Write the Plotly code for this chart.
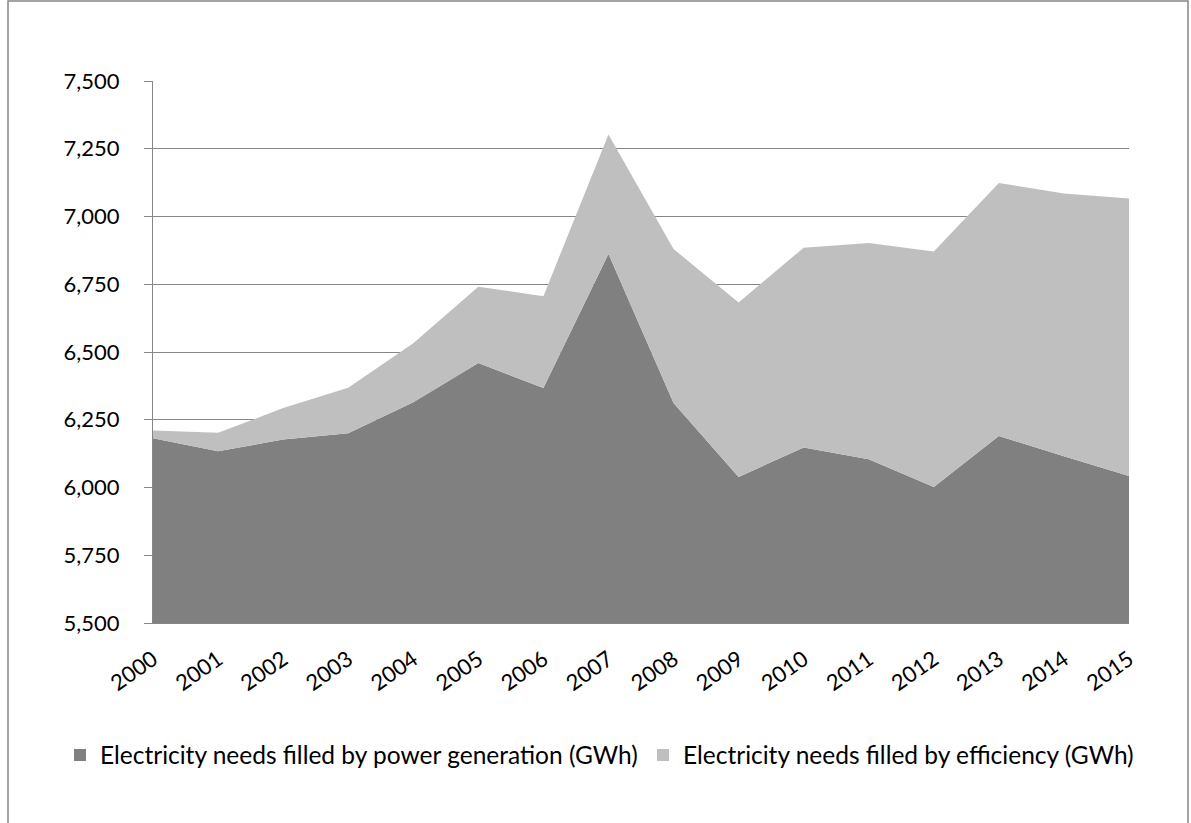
import plotly.graph_objects as go

# Annual electricity needs, GWh
years = list(range(2000, 2016))
power_generation = [6182, 6134, 6177, 6200, 6315, 6459, 6367, 6862,
                    6312, 6039, 6148, 6104, 6002, 6190, 6115, 6042]
efficiency = [28, 68, 116, 168, 217, 282, 339, 441,
              568, 644, 737, 798, 869, 934, 970, 1024]

series_names = [
    "Electricity needs filled by power generation (GWh)",
    "Electricity needs filled by efficiency (GWh)",
]
series_colors = ["#808080", "#BFBFBF"]
legend_ids = ["legend", "legend2"]
legend_left_px = [60, 643]
y_ticks = list(range(5500, 7501, 250))

FONT = "Lato, Calibri, Carlito, sans-serif"
W, H = 1191, 823
L, R, T, B = 153, 62, 81, 200

fig = go.Figure()

# Stacked areas
for name, vals, col in zip(series_names, [power_generation, efficiency], series_colors):
    fig.add_trace(go.Scatter(
        x=years, y=vals, name=name, stackgroup="one", mode="none",
        fillcolor=col, line=dict(width=0), showlegend=False,
        legendgroup=name, hoverinfo="x+y+name",
    ))

# Square swatches, one legend box per series so the row never wraps
for name, col, lg in zip(series_names, series_colors, legend_ids):
    fig.add_trace(go.Scatter(
        x=[None], y=[None], name=name, mode="markers", legendgroup=name,
        legend=lg,
        marker=dict(symbol="square", size=14, color=col, line=dict(width=0)),
    ))

# Outer chart border
pw, ph = W - L - R, H - T - B
fig.add_shape(
    type="rect", xref="paper", yref="paper",
    x0=(8 - L) / pw, x1=(1188 - L) / pw,
    y0=-(840 - (H - B)) / ph, y1=((H - B) - 1) / ph,
    line=dict(color="#868686", width=1.5), fillcolor="rgba(0,0,0,0)",
    layer="below",
)

legend_style = dict(
    orientation="h", xref="container", yref="container",
    xanchor="left", y=1 - 755 / H, yanchor="middle",
    font=dict(family=FONT, size=24.5, color="black"),
    itemsizing="constant", itemwidth=30, bgcolor="rgba(0,0,0,0)",
)

fig.update_layout(
    width=W, height=H,
    margin=dict(l=L, r=R, t=T, b=B, pad=0),
    paper_bgcolor="white", plot_bgcolor="white",
    font=dict(family=FONT, size=22, color="black"),
    legend=dict(x=legend_left_px[0] / W, **legend_style),
    legend2=dict(x=legend_left_px[1] / W, **legend_style),
    xaxis=dict(
        range=[2000, 2015], tickmode="array", tickvals=years,
        ticktext=[str(y) for y in years], tickangle=-35,
        showgrid=False, zeroline=False, showline=True,
        linecolor="#868686", linewidth=1, ticks="",
        ticklabelstandoff=14,
        tickfont=dict(family=FONT, size=22, color="black"),
    ),
    yaxis=dict(
        range=[5500, 7500], tickmode="array", tickvals=y_ticks,
        tickformat=",d", showgrid=True, gridcolor="#868686", gridwidth=1.3,
        zeroline=False, showline=True, linecolor="#868686", linewidth=1.3,
        ticks="outside", ticklen=8, tickcolor="#868686", tickwidth=1.3,
        ticklabelstandoff=20,
        tickfont=dict(family=FONT, size=22, color="black"),
    ),
)

fig.write_html("out.html")
